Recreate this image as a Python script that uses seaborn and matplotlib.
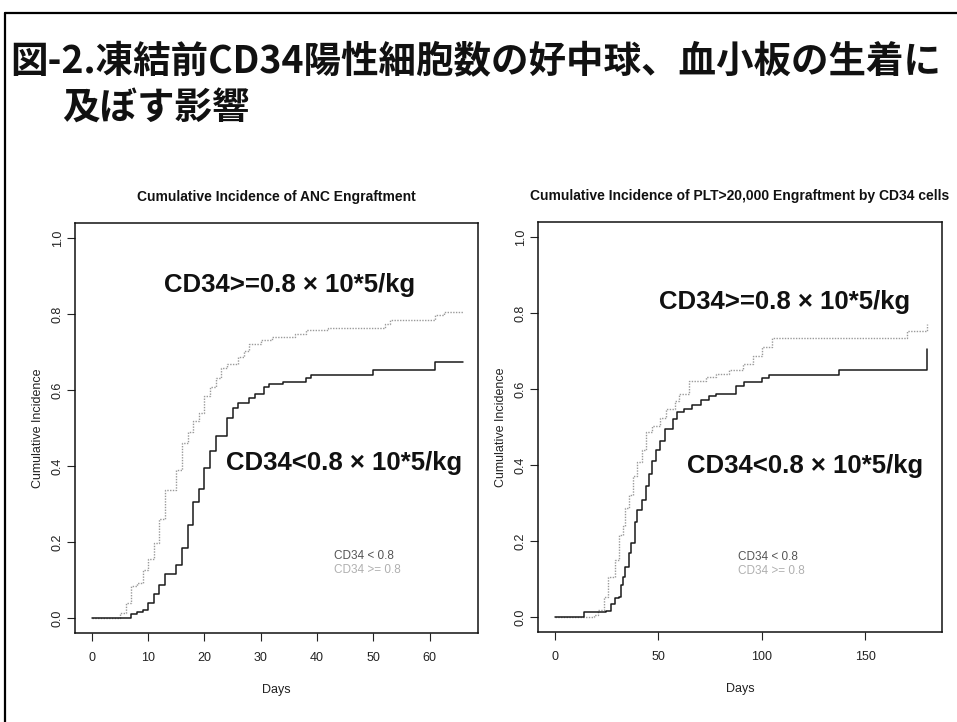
import matplotlib
matplotlib.use("Agg")
import matplotlib.pyplot as plt
from matplotlib.lines import Line2D
import seaborn as sns
import pandas as pd

# ---------------- data ----------------
anc_hi_days = [0, 5, 6, 7, 8, 9, 10, 11, 12, 13, 15, 16, 17, 18, 19, 20, 21, 22, 23, 24, 26, 27, 28, 30, 32, 36, 38, 42, 52, 53, 61, 62.5, 66]
anc_hi_ci = [0, 0.013, 0.039, 0.085, 0.093, 0.125, 0.156, 0.196, 0.26, 0.337, 0.39, 0.46, 0.49, 0.518, 0.54, 0.585, 0.608, 0.633, 0.658, 0.668, 0.686, 0.704, 0.721, 0.733, 0.739, 0.748, 0.757, 0.764, 0.774, 0.785, 0.797, 0.805, 0.805]

anc_lo_days = [0, 7, 8, 9, 10, 11, 12, 13, 15, 16, 17, 18, 19, 20, 21, 22, 24, 25, 26, 28, 29, 30.5, 31.5, 34, 38, 39, 50, 61, 66]
anc_lo_ci = [0, 0.011, 0.016, 0.021, 0.04, 0.062, 0.086, 0.115, 0.14, 0.183, 0.245, 0.304, 0.34, 0.395, 0.44, 0.48, 0.527, 0.554, 0.567, 0.58, 0.59, 0.609, 0.615, 0.622, 0.633, 0.64, 0.652, 0.673, 0.673]

plt_hi_days = [0, 19, 21, 24, 26, 29, 31, 33, 34, 36, 38, 40, 42, 44, 47, 51, 54, 58, 60, 65, 73, 78, 84, 91, 96, 100, 105, 170, 180]
plt_hi_ci = [0, 0.005, 0.018, 0.053, 0.106, 0.15, 0.216, 0.238, 0.287, 0.322, 0.37, 0.407, 0.44, 0.486, 0.503, 0.525, 0.547, 0.569, 0.587, 0.622, 0.631, 0.64, 0.651, 0.666, 0.688, 0.71, 0.734, 0.752, 0.772]

plt_lo_days = [0, 14, 25, 27, 29, 31, 32, 33, 34, 36, 37, 39, 40, 42, 44, 45.5, 47, 49, 51, 53.5, 57, 59, 62.5, 66.5, 70.5, 74.5, 78, 87.5, 91.5, 100, 103.5, 137.5, 180]
plt_lo_ci = [0, 0.012, 0.016, 0.035, 0.049, 0.053, 0.084, 0.106, 0.132, 0.168, 0.194, 0.25, 0.282, 0.309, 0.344, 0.375, 0.41, 0.44, 0.463, 0.494, 0.521, 0.539, 0.547, 0.558, 0.571, 0.581, 0.587, 0.609, 0.618, 0.629, 0.637, 0.649, 0.706]

yticks = [0.0, 0.2, 0.4, 0.6, 0.8, 1.0]
anc_xticks = [0, 10, 20, 30, 40, 50, 60]
plt_xticks = [0, 50, 100, 150]

main_title_1 = "図-2.凍結前CD34陽性細胞数の好中球、血小板の生着に"
main_title_2 = "及ぼす影響"
anc_title = "Cumulative Incidence of ANC Engraftment"
plt_title = "Cumulative Incidence of PLT>20,000 Engraftment by CD34 cells"
label_hi = "CD34>=0.8 × 10*5/kg"
label_lo = "CD34<0.8 × 10*5/kg"
legend_lo = "CD34 < 0.8"
legend_hi = "CD34 >= 0.8"

# ---------------- style ----------------
sns.set_style("ticks", {"axes.edgecolor": "black"})
plt.rcParams["font.family"] = ["Liberation Sans", "Noto Sans CJK JP", "DejaVu Sans"]

fig = plt.figure(figsize=(9.57, 7.22), dpi=100)
fig.patch.set_facecolor("white")

# slide border (left & top)
fig.add_artist(Line2D([5 / 957, 5 / 957], [0, 1 - 13 / 722], color="black", lw=1.6, transform=fig.transFigure))
fig.add_artist(Line2D([5 / 957, 1], [1 - 13 / 722, 1 - 13 / 722], color="black", lw=1.6, transform=fig.transFigure))

fig.text(10 / 957, 1 - 62 / 722, main_title_1, fontsize=27, fontweight="bold",
         family=["Noto Sans CJK JP", "DejaVu Sans"], va="center", ha="left", color="#111111")
fig.text(62 / 957, 1 - 108 / 722, main_title_2, fontsize=27, fontweight="bold",
         family=["Noto Sans CJK JP", "DejaVu Sans"], va="center", ha="left", color="#111111")

ax1 = fig.add_axes([75 / 957, 1 - 633 / 722, 403 / 957, 410 / 722])
ax2 = fig.add_axes([538 / 957, 1 - 632 / 722, 404 / 957, 410 / 722])

panels = [
    (ax1, anc_hi_days, anc_hi_ci, anc_lo_days, anc_lo_ci, anc_xticks, (-3, 68.6), anc_title,
     (12.9, 0.877), (23.9, 0.408), (43.1, 0.162), (43.1, 0.125)),
    (ax2, plt_hi_days, plt_hi_ci, plt_lo_days, plt_lo_ci, plt_xticks, (-8, 187), plt_title,
     (50.5, 0.83), (64.0, 0.396), (88.7, 0.158), (88.7, 0.121)),
]

for (ax, hd, hc, ld, lc, xt, xl, title, pos_hi, pos_lo, leg_lo, leg_hi) in panels:
    df_hi = pd.DataFrame({"day": hd, "ci": hc})
    df_lo = pd.DataFrame({"day": ld, "ci": lc})
    sns.lineplot(data=df_hi, x="day", y="ci", ax=ax, color="#9a9a9a", lw=1.0,
                 linestyle=(0, (1, 1)), drawstyle="steps-post", estimator=None, sort=False)
    sns.lineplot(data=df_lo, x="day", y="ci", ax=ax, color="#1a1a1a", lw=1.1,
                 drawstyle="steps-post", estimator=None, sort=False)
    ax.set_xlim(*xl)
    ax.set_ylim(-0.04, 1.04)
    ax.set_xticks(xt)
    ax.set_xticklabels([str(v) for v in xt])
    ax.set_yticks(yticks)
    ax.set_yticklabels([f"{v:.1f}" for v in yticks])
    ax.tick_params(axis="both", direction="out", length=6, width=0.8, labelsize=9,
                   colors="#222222")
    ax.tick_params(axis="x", pad=8)
    ax.tick_params(axis="y", labelrotation=90, pad=2)
    for lab in ax.get_yticklabels():
        lab.set_va("center")
    for s in ax.spines.values():
        s.set_linewidth(1.1)
        s.set_color("#111111")
    ax.set_xlabel("Days", fontsize=9, color="#222222", labelpad=14)
    ax.set_ylabel("Cumulative Incidence", fontsize=9, color="#222222", labelpad=6)
    ax.set_title(title, fontsize=10, fontweight="bold", pad=16, color="#111111")
    ax.text(pos_hi[0], pos_hi[1], label_hi, fontsize=18.5, fontweight="bold", va="center", ha="left", color="#111111")
    ax.text(pos_lo[0], pos_lo[1], label_lo, fontsize=18.5, fontweight="bold", va="center", ha="left", color="#111111")
    ax.text(leg_lo[0], leg_lo[1], legend_lo, fontsize=8.5, va="center", ha="left", color="#555555")
    ax.text(leg_hi[0], leg_hi[1], legend_hi, fontsize=8.5, va="center", ha="left", color="#b0b0b0")

fig.savefig("out.png", dpi=100, facecolor="white")
